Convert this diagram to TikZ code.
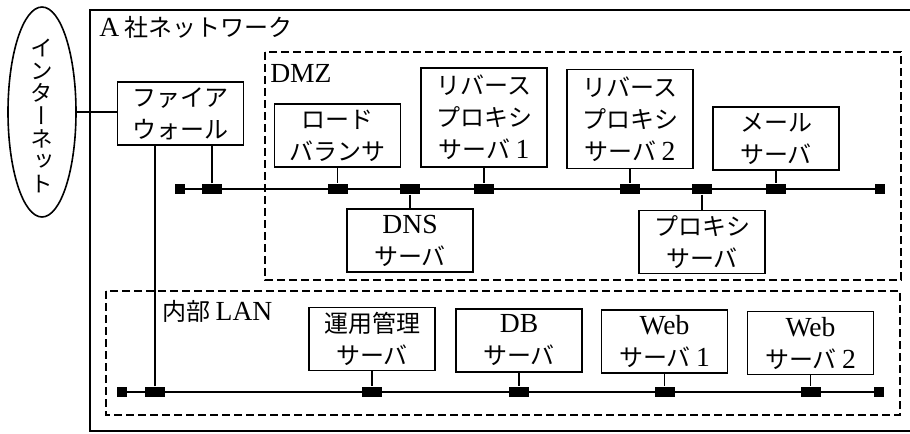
\documentclass[tikz,border=0pt]{standalone}
\usepackage{fontspec}
\setmainfont{Liberation Serif}[Scale=1.15]
\newfontfamily\jp{Noto Sans CJK JP}
\newfontfamily\jpv[RawFeature=+vert]{Noto Sans CJK JP}
\usetikzlibrary{shapes.geometric}

\tikzset{
  srv/.style={draw, line width=1.2pt, align=center, inner sep=0pt,
    minimum width=94.5pt, minimum height=47.25pt,
    font=\jp\fontsize{18}{24}\selectfont},
  srv3/.style={srv, minimum height=74.25pt},
  tap/.style={fill, inner sep=0pt, minimum width=15pt, minimum height=8pt},
  term/.style={fill, inner sep=0pt, minimum width=7pt, minimum height=7.5pt},
  zone/.style={line width=1.2pt, dash pattern=on 6pt off 3pt},
  bus/.style={line width=1.8pt},
  wire/.style={line width=1.1pt},
  lbl/.style={anchor=west, inner sep=0pt, font=\jp\fontsize{18}{24}\selectfont}
}

\begin{document}
\begin{tikzpicture}[x=0.75pt,y=0.75pt,yscale=-1,xscale=1]
\useasboundingbox (0,0) rectangle (910,433);
%Shape: outer frame
\draw [line width=1.4pt] (910,10) -- (90,10) -- (90,431) -- (910,431) ;
% Text Node
\node [lbl] (corp) at (99,27) {{\rmfamily A} 社ネットワーク};
%Shape: zones
\draw [zone] (265,52) rectangle (901,280) ;
\node [lbl] (dmz) at (270,73) {\rmfamily DMZ};
\draw [zone] (106,291) rectangle (900,415) ;
\node [lbl] (lan) at (162,311) {内部 {\rmfamily LAN}};
%Shape: Ellipse
\node [draw, ellipse, line width=1.2pt, inner sep=0pt, minimum width=51pt, minimum height=157.5pt] (inet) at (42,112) {};
\node [align=center, inner sep=0pt, font=\jpv\fontsize{17}{17}\selectfont] (inet-t) at (42,116) {イ\\ン\\タ\\ー\\ネ\\ッ\\ト};
% Firewall
\node [srv] (fw) at (180.5,113.5) {ファイア\\ウォール};
\draw [wire] (inet.east) -- (inet.east -| fw.west) ;
% DMZ servers
\node [srv] (lb) at (337.5,135.5) {ロード\\バランサ};
\node [srv3] (rp1) at (484,117.5) {リバース\\プロキシ\\サーバ {\rmfamily 1}};
\node [srv3] (rp2) at (630,119) {リバース\\プロキシ\\サーバ {\rmfamily 2}};
\node [srv] (mail) at (776,138.5) {メール\\サーバ};
\node [srv] (dns) at (410,240.5) {{\rmfamily DNS}\\サーバ};
\node [srv] (prx) at (702,242) {プロキシ\\サーバ};
% DMZ segment
\node [term] (d0) at (180,189) {};
\node [term] (d1) at (880,189) {};
\draw [bus] (d0) -- (d1) ;
\node [tap] (t-fw) at (212,189) {};
\draw [wire] (t-fw) -- (t-fw |- fw.south) ;
\foreach \s in {lb,dns,rp1,rp2,prx,mail}
  \node [tap] (t-\s) at (\s |- d0) {};
\foreach \s in {lb,rp1,rp2,mail}
  \draw [wire] (\s) -- (t-\s) ;
\foreach \s in {dns,prx}
  \draw [wire] (t-\s) -- (\s) ;
% LAN servers
\node [srv] (ops) at (372,339) {運用管理\\サーバ};
\node [srv] (db) at (519,340.5) {{\rmfamily DB}\\サーバ};
\node [srv] (web1) at (664.5,341.5) {{\rmfamily Web}\\サーバ {\rmfamily 1}};
\node [srv] (web2) at (810.5,343) {{\rmfamily Web}\\サーバ {\rmfamily 2}};
% LAN segment
\node [term] (l0) at (122,392) {};
\node [term] (l1) at (879,392) {};
\draw [bus] (l0) -- (l1) ;
\node [tap] (t-lan) at (155,392) {};
\draw [wire] (t-lan) -- (t-lan |- fw.south) ;
\foreach \s in {ops,db,web1,web2}
  \node [tap] (t-\s) at (\s |- l0) {};
\foreach \s in {ops,db,web1,web2}
  \draw [wire] (\s) -- (t-\s) ;
\end{tikzpicture}
\end{document}
